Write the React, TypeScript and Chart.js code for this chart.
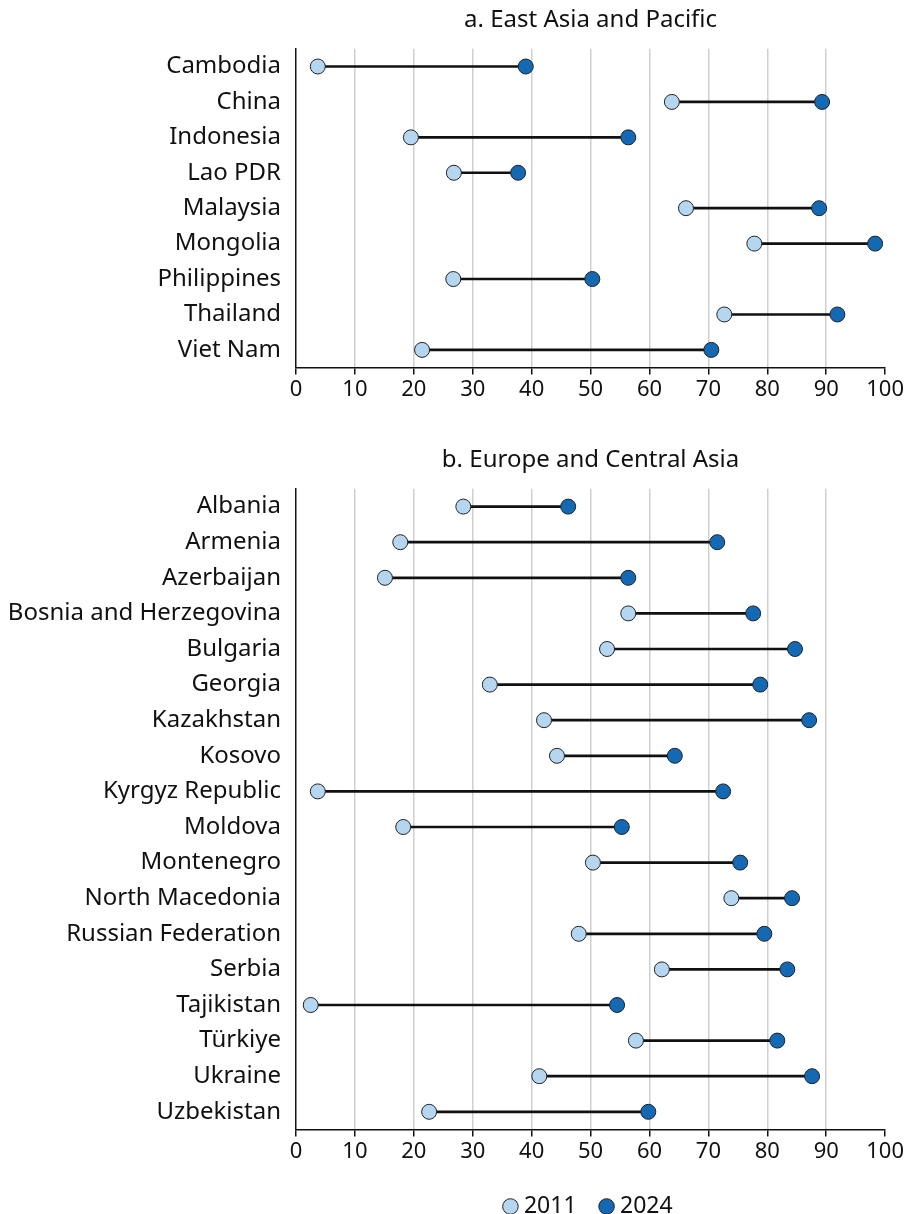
import React, { useEffect, useRef } from "react";
import { Chart, registerables } from "chart.js";

Chart.register(...registerables);

const eapCountries = ["Cambodia", "China", "Indonesia", "Lao PDR", "Malaysia", "Mongolia", "Philippines", "Thailand", "Viet Nam"];
const eap2011 = [3.7, 63.8, 19.5, 26.8, 66.2, 77.8, 26.7, 72.7, 21.4];
const eap2024 = [39.0, 89.3, 56.4, 37.7, 88.8, 98.3, 50.3, 91.9, 70.5];

const ecaCountries = [
  "Albania", "Armenia", "Azerbaijan", "Bosnia and Herzegovina", "Bulgaria", "Georgia",
  "Kazakhstan", "Kosovo", "Kyrgyz Republic", "Moldova", "Montenegro", "North Macedonia",
  "Russian Federation", "Serbia", "Tajikistan", "Türkiye", "Ukraine", "Uzbekistan",
];
const eca2011 = [28.4, 17.7, 15.1, 56.4, 52.8, 32.9, 42.1, 44.3, 3.7, 18.2, 50.4, 73.9, 48.0, 62.1, 2.5, 57.7, 41.3, 22.6];
const eca2024 = [46.2, 71.5, 56.4, 77.6, 84.7, 78.8, 87.1, 64.3, 72.5, 55.3, 75.4, 84.2, 79.5, 83.4, 54.5, 81.7, 87.6, 59.8];

const xTicks = [0, 10, 20, 30, 40, 50, 60, 70, 80, 90, 100];
const seriesNames = ["2011", "2024"];

const LIGHT = "#b5d6f0";
const DARK = "#1469b4";
const FONT = "'Noto Sans', 'Open Sans', sans-serif";
const TEXT = "#111111";

type PanelProps = {
  title: string;
  labels: string[];
  a: number[];
  b: number[];
  legend: boolean;
  height: number;
  bottomPad: number;
};

function Panel({ title, labels, a, b, legend, height, bottomPad }: PanelProps) {
  const ref = useRef<HTMLCanvasElement | null>(null);
  useEffect(() => {
    if (!ref.current) return;
    const chart = new Chart(ref.current, {
      type: "bar",
      data: {
        labels,
        datasets: [
          {
            type: "line",
            label: seriesNames[0],
            data: a,
            showLine: false,
            pointRadius: 7.5,
            pointBorderWidth: 1,
            pointBackgroundColor: LIGHT,
            pointBorderColor: "#222",
            backgroundColor: LIGHT,
            borderColor: "#222",
            order: 1,
          } as any,
          {
            type: "line",
            label: seriesNames[1],
            data: b,
            showLine: false,
            pointRadius: 7.5,
            pointBorderWidth: 1,
            pointBackgroundColor: DARK,
            pointBorderColor: "#222",
            backgroundColor: DARK,
            borderColor: "#222",
            order: 0,
          } as any,
          {
            type: "bar",
            label: "range",
            data: a.map((v, i) => [v, b[i]]),
            backgroundColor: "#111",
            barThickness: 2,
            order: 5,
          } as any,
        ],
      },
      options: {
        indexAxis: "y",
        responsive: true,
        maintainAspectRatio: false,
        animation: false,
        events: [],
        layout: { padding: { top: 0, right: 20, left: 0, bottom: bottomPad } },
        scales: {
          x: {
            min: 0,
            max: 100,
            afterBuildTicks: (s: any) => {
              s.ticks = xTicks.map((v) => ({ value: v }));
            },
            grid: {
              color: (c: any) => (c.tick && (c.tick.value === 0 || c.tick.value === 100) ? "rgba(0,0,0,0)" : "#cfcfcf"),
              lineWidth: 1.5,
              tickColor: "#111",
              tickLength: 7,
            },
            border: { color: "#111", width: 1.5 },
            ticks: { color: TEXT, font: { family: FONT, size: 22 }, padding: 2, maxRotation: 0 },
          },
          y: {
            afterFit: (s: any) => {
              s.width = 296;
            },
            grid: { display: false },
            border: { color: "#111", width: 1.5 },
            ticks: { color: TEXT, font: { family: FONT, size: 24 }, padding: 7 },
          },
        },
        plugins: {
          tooltip: { enabled: false },
          title: {
            display: true,
            text: title,
            fullSize: false,
            color: TEXT,
            font: { family: FONT, size: 24, weight: "normal" },
            padding: { top: 6, bottom: 14 },
          },
          legend: {
            display: legend,
            position: "bottom",
            fullSize: false,
            maxHeight: 47,
            labels: {
              usePointStyle: true,
              pointStyle: "circle",
              boxWidth: 4,
              boxHeight: 11,
              padding: 28,
              color: TEXT,
              font: { family: FONT, size: 23 },
              generateLabels: (ch: any) =>
                ch.data.datasets.slice(0, 2).map((d: any, i: number) => ({
                  text: d.label,
                  fillStyle: i === 0 ? LIGHT : DARK,
                  strokeStyle: "#222",
                  lineWidth: 1,
                  pointStyle: "circle",
                  datasetIndex: i,
                  fontColor: TEXT,
                })),
            },
          },
        },
      } as any,
    });
    return () => chart.destroy();
  }, []);
  return (
    <div style={{ position: "relative", width: 906, height }}>
      <canvas ref={ref} />
    </div>
  );
}

export default function App() {
  return (
    <div style={{ position: "absolute", left: 0, top: 0, width: 906, height: 1214, overflow: "hidden", background: "#fff" }}>
      <Panel title="a. East Asia and Pacific" labels={eapCountries} a={eap2011} b={eap2024} legend={false} height={440} bottomPad={35} />
      <Panel title="b. Europe and Central Asia" labels={ecaCountries} a={eca2011} b={eca2024} legend={true} height={774} bottomPad={0} />
    </div>
  );
}
